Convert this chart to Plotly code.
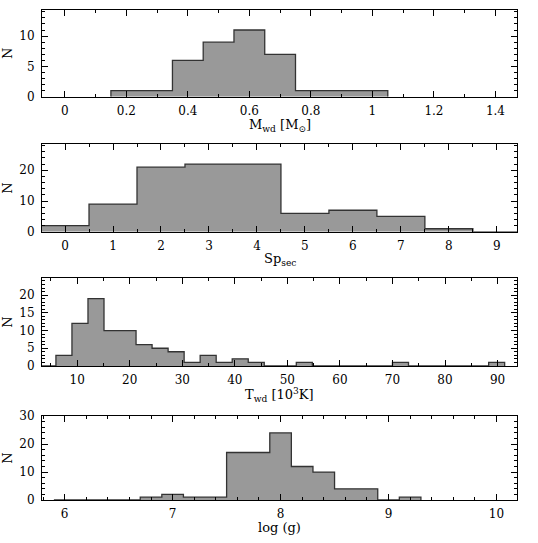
import plotly.graph_objects as go

# ---- data ----
mwd_centers = [0.2, 0.3, 0.4, 0.5, 0.6, 0.7, 0.8, 0.9, 1.0]
mwd_counts = [1, 1, 6, 9, 11, 7, 1, 1, 1]
mwd_width = 0.1

sp_centers = [0, 1, 2, 3, 4, 5, 6, 7, 8, 9]
sp_counts = [2, 9, 21, 22, 22, 6, 7, 5, 1, 0]
sp_width = 1.0

tw_bin_lo = 2.9
tw_width = 3.05
tw_counts = [0, 3, 12, 19, 10, 10, 6, 5, 4, 1, 3, 1, 2, 1, 0, 0, 1,
             0, 0, 0, 0, 0, 1, 0, 0, 0, 0, 0, 1]
tw_centers = [tw_bin_lo + (i + 0.5) * tw_width for i in range(len(tw_counts))]

lg_centers = [6.0, 6.2, 6.4, 6.6, 6.8, 7.0, 7.2, 7.4, 7.6, 7.8, 8.0, 8.2,
              8.4, 8.6, 8.8, 9.0, 9.2]
lg_counts = [0, 0, 0, 0, 1, 2, 1, 1, 17, 17, 24, 12, 10, 4, 4, 0, 1]
lg_width = 0.2

xtitles = ["M<sub>wd</sub> [M<sub>\u2299</sub>]", "Sp<sub>sec</sub>",
           "T<sub>wd</sub> [10<sup>3</sup>K]", "log (g)"]

panels = [
    (mwd_centers, mwd_counts, mwd_width),
    (sp_centers, sp_counts, sp_width),
    (tw_centers, tw_counts, tw_width),
    (lg_centers, lg_counts, lg_width),
]

xranges = [[-0.074, 1.47], [-0.48, 9.42], [3.3, 93.7], [5.79, 10.19]]
yranges = [[0, 14.3], [0, 28.5], [0, 24.8], [0, 30]]
xdt = [(0.2, 0.1), (1, 0.5), (10, 5), (1, 0.2)]
ydt = [(5, 1), (10, 2), (5, 1), (10, 2)]

H = 543
top, bot = 3, 43
plot_h = H - top - bot
def frac(p):
    return (H - bot - p) / plot_h
pix = [(3, 91), (139, 228), (275, 364), (415, 500)]
title_y = [120, 256, 393, 528]
domains = [[frac(b), frac(t)] for t, b in pix]

FONT = "DejaVu Serif"
fig = go.Figure()

for i, (centers, counts, w) in enumerate(panels):
    edges = [c - w / 2 for c in centers]
    xs = [edges[0]] + edges + [centers[-1] + w / 2]
    ys = [0] + list(counts) + [0]
    xa = "x" if i == 0 else f"x{i+1}"
    ya = "y" if i == 0 else f"y{i+1}"
    fig.add_trace(go.Scatter(
        x=xs, y=ys, mode="lines", line=dict(shape="hv", color="#333333", width=1.3),
        fill="tozeroy", fillcolor="#999999", xaxis=xa, yaxis=ya,
        showlegend=False, hoverinfo="skip"))

    axcommon = dict(showline=True, linecolor="black", linewidth=1, mirror="allticks",
                    ticks="inside", tickcolor="black", ticklen=6, tickwidth=1,
                    showgrid=False, zeroline=False,
                    tickfont=dict(family=FONT, size=12, color="black"))
    xkey = "xaxis" if i == 0 else f"xaxis{i+1}"
    ykey = "yaxis" if i == 0 else f"yaxis{i+1}"
    fig.update_layout(**{
        xkey: dict(axcommon, range=xranges[i], dtick=xdt[i][0], tick0=0,
                   anchor=ya, domain=[0, 1], ticklabelstandoff=3,
                   minor=dict(dtick=xdt[i][1], tick0=0, ticks="inside", ticklen=3,
                              tickcolor="black", showgrid=False)),
        ykey: dict(axcommon, range=yranges[i], dtick=ydt[i][0], tick0=0,
                   anchor=xa, domain=domains[i], ticklabelstandoff=4,
                   minor=dict(dtick=ydt[i][1], tick0=0, ticks="inside", ticklen=3,
                              tickcolor="black", showgrid=False),
                   title=dict(text="N", font=dict(family=FONT, size=13, color="black"),
                              standoff=4)),
    })
    fig.add_annotation(text=xtitles[i], xref="paper", yref="paper",
                       x=0.5, y=frac(title_y[i]), xanchor="center", yanchor="middle",
                       showarrow=False, font=dict(family=FONT, size=13, color="black"))

fig.update_layout(width=538, height=543, margin=dict(l=42, r=21, t=top, b=bot),
                  plot_bgcolor="white", paper_bgcolor="white")
fig.write_html("out.html")
